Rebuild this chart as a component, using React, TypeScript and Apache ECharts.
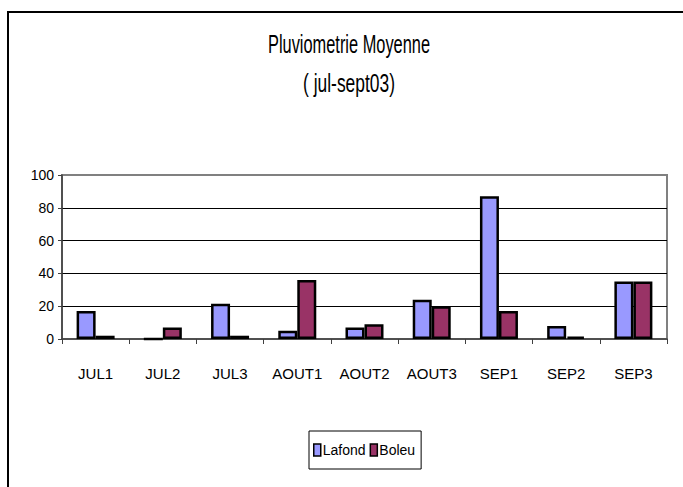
import React, { useEffect, useRef } from "react";
import * as echarts from "echarts";

const titleLine1 = "Pluviometrie Moyenne";
const titleLine2 = "( jul-sept03)";
const categories = ["JUL1", "JUL2", "JUL3", "AOUT1", "AOUT2", "AOUT3", "SEP1", "SEP2", "SEP3"];
const lafond = [17, 0, 21.5, 5, 7, 24, 87, 8, 35];
const boleu = [2, 7, 2, 36, 9, 20, 17, 1.5, 35];
const seriesNames = ["Lafond", "Boleu"];

const FONT = "'Liberation Sans', Arial, sans-serif";

export default function App() {
  const ref = useRef<HTMLDivElement>(null);
  useEffect(() => {
    if (!ref.current) return;
    const chart = echarts.init(ref.current, null, { renderer: "svg" });
    chart.setOption({
      animation: false,
      backgroundColor: "#ffffff",
      textStyle: { fontFamily: FONT, color: "#000" },
      graphic: [
        {
          type: "rect",
          shape: { x: 8, y: 12, width: 720, height: 520 },
          style: { fill: "none", stroke: "#000", lineWidth: 2 },
          silent: true,
        },
        {
          type: "text",
          x: 349,
          y: 44,
          scaleX: 0.63,
          style: {
            text: titleLine1,
            fontFamily: FONT,
            fontSize: 26,
            fill: "#000",
            align: "center",
            verticalAlign: "middle",
          },
        },
        {
          type: "text",
          x: 349,
          y: 83,
          scaleX: 0.67,
          style: {
            text: titleLine2,
            fontFamily: FONT,
            fontSize: 26,
            fill: "#000",
            align: "center",
            verticalAlign: "middle",
          },
        },
      ],
      grid: {
        left: 62,
        right: 16,
        top: 175,
        bottom: 148,
        show: true,
        borderColor: "#808080",
        borderWidth: 2,
      },
      legend: {
        data: seriesNames,
        left: 309,
        top: 431,
        orient: "horizontal",
        padding: [12, 6, 12, 4],
        itemGap: 4,
        itemWidth: 7,
        itemHeight: 12,
        borderColor: "#000",
        borderWidth: 1,
        icon: "rect",
        itemStyle: { borderColor: "#000", borderWidth: 1.5 },
        textStyle: { fontFamily: FONT, fontSize: 14, color: "#000", padding: [0, 0, 0, -3] },
      },
      xAxis: {
        type: "category",
        data: categories,
        boundaryGap: true,
        axisLine: { lineStyle: { color: "#404040", width: 1.5 } },
        axisTick: { show: true, alignWithLabel: false, length: 5, lineStyle: { color: "#404040" } },
        axisLabel: { fontFamily: FONT, fontSize: 15, color: "#000", margin: 27, interval: 0 },
      },
      yAxis: {
        type: "value",
        min: 0,
        max: 100,
        interval: 20,
        axisLine: { show: true, lineStyle: { color: "#404040", width: 1.5 } },
        axisTick: { show: true, length: 4, lineStyle: { color: "#404040" } },
        axisLabel: { fontFamily: FONT, fontSize: 14, color: "#000", margin: 8 },
        splitLine: {
          show: true,
          showMinLine: false,
          showMaxLine: false,
          lineStyle: { color: "#000", width: 1 },
        },
      },
      series: [
        {
          name: seriesNames[0],
          type: "bar",
          data: lafond,
          barWidth: 19,
          barGap: "0%",
          itemStyle: { color: "#9999FF", borderColor: "#000", borderWidth: 2.5 },
        },
        {
          name: seriesNames[1],
          type: "bar",
          data: boleu,
          barWidth: 19,
          barGap: "0%",
          itemStyle: { color: "#993366", borderColor: "#000", borderWidth: 2.5 },
        },
      ],
    });
    return () => chart.dispose();
  }, []);
  return (
    <div
      ref={ref}
      style={{ position: "fixed", left: 0, top: 0, width: 683, height: 487, background: "#fff" }}
    />
  );
}
